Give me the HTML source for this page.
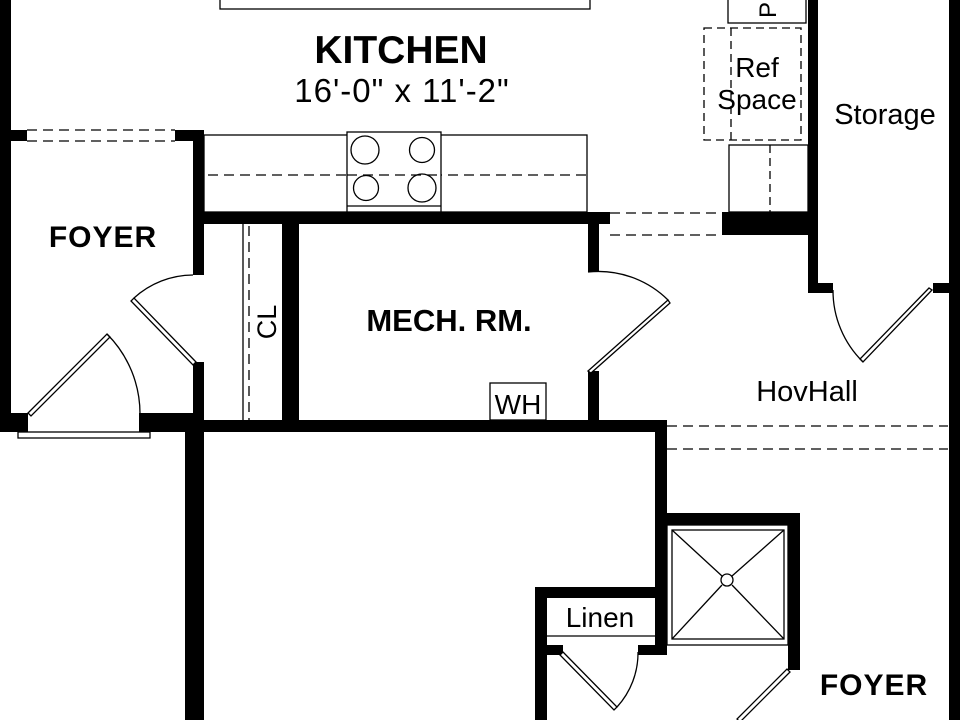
<!DOCTYPE html>
<html><head><meta charset="utf-8"><style>
html,body{margin:0;padding:0;background:#fff;width:960px;height:720px;overflow:hidden}
svg{display:block}
text{font-family:"Liberation Sans",Arial,sans-serif;fill:#000}
</style></head><body>
<svg width="960" height="720" viewBox="0 0 960 720" xmlns="http://www.w3.org/2000/svg">
<rect width="960" height="720" fill="#fff"/>
<g fill="#000">
<rect x="0" y="0" width="11" height="432"/>
<rect x="0" y="130" width="27" height="11"/>
<rect x="175" y="130" width="29" height="11"/>
<rect x="193" y="130" width="11" height="145"/>
<rect x="193" y="362" width="11" height="70"/>
<rect x="0" y="413" width="28" height="19"/>
<rect x="139" y="413" width="65" height="19"/>
<rect x="193" y="212" width="417" height="12"/>
<rect x="722" y="212" width="96" height="23"/>
<rect x="808" y="0" width="10" height="293"/>
<rect x="808" y="283" width="25" height="10"/>
<rect x="949" y="0" width="11" height="720"/>
<rect x="933" y="283" width="20" height="10"/>
<rect x="282" y="224" width="17" height="196"/>
<rect x="588" y="224" width="11" height="48"/>
<rect x="588" y="371" width="11" height="50"/>
<rect x="193" y="420" width="473" height="12"/>
<rect x="185" y="420" width="19" height="300"/>
<rect x="655" y="420" width="12" height="235"/>
<rect x="655" y="513" width="145" height="12"/>
<rect x="788" y="513" width="12" height="157"/>
<rect x="535" y="587" width="132" height="11"/>
<rect x="535" y="587" width="12" height="133"/>
<rect x="547" y="645" width="16" height="10"/>
<rect x="638" y="645" width="29" height="10"/>
</g>
<g fill="none" stroke="#000" stroke-width="1.3">
<rect x="220" y="-2" width="370" height="11"/>
<rect x="728" y="-2" width="78" height="25"/>
<rect x="704" y="28" width="97" height="112" stroke-dasharray="8,5"/>
<line x1="731" y1="28" x2="731" y2="140" stroke-dasharray="8,5"/>
<rect x="729" y="145" width="79" height="67"/>
<line x1="770" y1="145" x2="770" y2="212" stroke-dasharray="8,5"/>
<line x1="27" y1="130" x2="175" y2="130" stroke-dasharray="10,6"/>
<line x1="27" y1="141" x2="175" y2="141" stroke-dasharray="10,6"/>
<rect x="204" y="135" width="383" height="77"/>
<line x1="208" y1="175" x2="587" y2="175" stroke-dasharray="10,6"/>
<rect x="347" y="132" width="94" height="80" fill="#fff"/>
<line x1="347" y1="206" x2="441" y2="206"/>
<circle cx="365" cy="150" r="14"/><circle cx="422" cy="150" r="12.5"/>
<circle cx="366" cy="188" r="12.5"/><circle cx="422" cy="188" r="14"/>
<line x1="347" y1="175" x2="441" y2="175" stroke-dasharray="10,6"/>
<line x1="610" y1="213" x2="722" y2="213" stroke-dasharray="10,6"/>
<line x1="610" y1="235" x2="722" y2="235" stroke-dasharray="10,6"/>
<line x1="243" y1="224" x2="243" y2="420"/>
<line x1="249" y1="226" x2="249" y2="420" stroke-dasharray="10,6"/>
<rect x="18" y="432" width="132" height="6"/>
<polygon points="28,413 107,334 110,337 31,416" fill="#fff"/>
<path d="M107,334 A113,113 0 0 1 140,415"/>
<polygon points="196,362 134,298 131,301 193,365" fill="#fff"/>
<path d="M134,298 A88,88 0 0 1 193,275"/>
<polygon points="588,371 668,300 670,303 591,373" fill="#fff"/>
<path d="M588,272 A99,99 0 0 1 668,300"/>
<polygon points="932,290 863,362 860,359 929,288" fill="#fff"/>
<path d="M833,290 A100,100 0 0 0 863,362"/>
<rect x="490" y="383" width="56" height="37"/>
<line x1="667" y1="426" x2="948" y2="426" stroke-dasharray="10,6"/>
<line x1="667" y1="449" x2="948" y2="449" stroke-dasharray="10,6"/>
<rect x="667" y="525" width="121" height="120"/>
<rect x="672" y="530" width="112" height="109"/>
<line x1="672" y1="530" x2="722" y2="576"/>
<line x1="784" y1="530" x2="732" y2="576"/>
<line x1="672" y1="639" x2="722" y2="585"/>
<line x1="784" y1="639" x2="732" y2="585"/>
<circle cx="727" cy="580" r="6"/>
<line x1="547" y1="636" x2="655" y2="636"/>
<polygon points="563,652 617,707 614,710 560,655" fill="#fff"/>
<path d="M617,707 A80,80 0 0 0 638,652"/>
<polygon points="790,672 740,722 737,719 787,669" fill="#fff"/>
</g>
<text x="401" y="63" text-anchor="middle" font-size="39" font-weight="bold">KITCHEN</text>
<text x="402" y="102" text-anchor="middle" font-size="33" letter-spacing="1">16'-0" x 11'-2"</text>
<text x="103" y="247" text-anchor="middle" font-size="30" font-weight="bold" letter-spacing="1">FOYER</text>
<text x="449" y="331" text-anchor="middle" font-size="31" font-weight="bold">MECH. RM.</text>
<text transform="translate(276,322) rotate(-90)" text-anchor="middle" font-size="27">CL</text>
<text transform="translate(776,10) rotate(-90)" text-anchor="middle" font-size="24">P</text>
<text x="518" y="414" text-anchor="middle" font-size="28">WH</text>
<text x="807" y="401" text-anchor="middle" font-size="29">HovHall</text>
<text x="885" y="124" text-anchor="middle" font-size="29">Storage</text>
<text x="757" y="77" text-anchor="middle" font-size="28">Ref</text>
<text x="757" y="109" text-anchor="middle" font-size="28">Space</text>
<text x="600" y="627" text-anchor="middle" font-size="28">Linen</text>
<text x="874" y="695" text-anchor="middle" font-size="30" font-weight="bold" letter-spacing="1">FOYER</text>
</svg>
</body></html>
